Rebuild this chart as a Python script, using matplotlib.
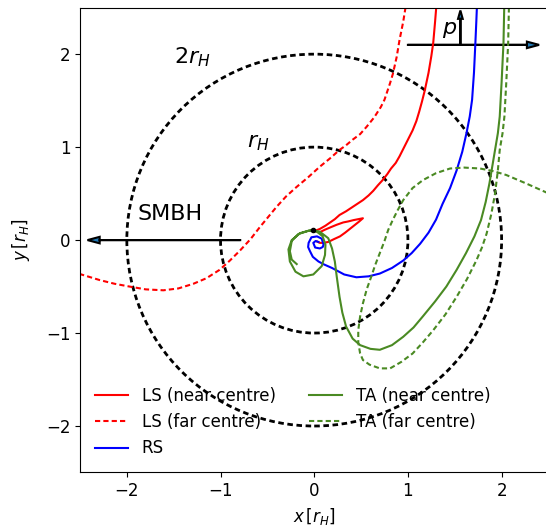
import matplotlib
matplotlib.use('Agg')
import matplotlib.pyplot as plt

# trajectories, in units of r_H
ls_near_x = [0.03, 0.06, 0.10, 0.15, 0.21, 0.275, 0.33, 0.38, 0.43, 0.48, 0.52, 0.47, 0.42,
             0.36, 0.31, 0.24, 0.18, 0.11, 0.05, 0.01,
             0.06, 0.12, 0.22, 0.27, 0.34, 0.40, 0.46, 0.52, 0.58, 0.63, 0.68, 0.73, 0.78,
             0.82, 0.87, 0.91, 0.96, 1.00, 1.05, 1.09, 1.12, 1.15, 1.18, 1.22, 1.25, 1.27,
             1.29, 1.31]
ls_near_y = [-0.015, -0.03, -0.03, -0.02, 0.01, 0.04, 0.08, 0.12, 0.16, 0.20, 0.235, 0.225,
             0.215, 0.20, 0.19, 0.165, 0.14, 0.11, 0.08, 0.10,
             0.12, 0.155, 0.225, 0.27, 0.31, 0.35, 0.39, 0.43, 0.48, 0.53, 0.59, 0.645, 0.71,
             0.77, 0.83, 0.90, 1.00, 1.08, 1.18, 1.28, 1.38, 1.49, 1.61, 1.80, 1.98, 2.12,
             2.35, 2.6]

ls_far_x = [0.99, 0.95, 0.91, 0.88, 0.84, 0.81, 0.78, 0.75, 0.71, 0.64, 0.56, 0.49, 0.41,
            0.34, 0.27, 0.17, 0.06, -0.06, -0.19, -0.30, -0.40, -0.49, -0.58, -0.68, -0.79,
            -0.90, -1.01, -1.15, -1.29, -1.45, -1.61, -1.80, -1.97, -2.13, -2.29, -2.55]
ls_far_y = [2.6, 2.35, 2.15, 1.97, 1.79, 1.69, 1.60, 1.51, 1.43, 1.32, 1.22, 1.14, 1.08,
            1.02, 0.97, 0.88, 0.79, 0.68, 0.57, 0.47, 0.36, 0.25, 0.14, 0.01, -0.11,
            -0.22, -0.32, -0.41, -0.47, -0.52, -0.54, -0.53, -0.50, -0.47, -0.43, -0.35]

rs_x = [1.74, 1.73, 1.72, 1.705, 1.685, 1.66, 1.625, 1.58, 1.52, 1.45, 1.37, 1.30, 1.22, 1.13,
        1.04, 0.95, 0.83, 0.70, 0.58, 0.45, 0.32, 0.19, 0.10, 0.045, -0.015, -0.045, -0.065,
        -0.06, -0.03, 0.03, 0.08, 0.10, 0.09, 0.06, 0.01, -0.01, 0.015, 0.045]
rs_y = [2.6, 2.35, 2.12, 1.80, 1.51, 1.33, 1.15, 0.95, 0.75, 0.56, 0.39, 0.22, 0.08, -0.04,
        -0.14, -0.22, -0.30, -0.36, -0.39, -0.40, -0.37, -0.30, -0.26, -0.23, -0.18, -0.12,
        -0.075, -0.03, 0.03, 0.04, 0.015, -0.05, -0.075, -0.09, -0.08, -0.03, -0.01, -0.02]

ta_near_x = [-0.187, -0.24, -0.26, -0.24, -0.17, -0.06, 0.03, 0.09, 0.12, 0.115, 0.08, -0.01,
             -0.115, -0.20, -0.26, -0.275, -0.24, -0.15, -0.03, 0.06, 0.15, 0.19, 0.22, 0.24,
             0.255, 0.27, 0.30, 0.34, 0.41, 0.49, 0.60, 0.70, 0.83, 0.95, 1.06, 1.16, 1.29,
             1.41, 1.52, 1.62, 1.71, 1.78, 1.83, 1.87, 1.90, 1.93, 1.96, 1.98, 2.00, 2.02, 2.03]
ta_near_y = [-0.258, -0.21, -0.12, -0.01, 0.065, 0.10, 0.09, 0.04, -0.05, -0.16, -0.28, -0.37,
             -0.39, -0.34, -0.23, -0.10, 0.0, 0.075, 0.11, 0.09, 0.02, -0.09, -0.23, -0.39,
             -0.50, -0.61, -0.78, -0.93, -1.06, -1.13, -1.17, -1.18, -1.13, -1.04, -0.94,
             -0.82, -0.66, -0.50, -0.32, -0.14, 0.04, 0.215, 0.41, 0.61, 0.79, 0.97, 1.15,
             1.33, 1.70, 2.12, 2.6]

ta_far_x = [2.08, 2.07, 2.05, 2.03, 2.01, 1.98, 1.96, 1.93, 1.89, 1.84, 1.79, 1.73, 1.63,
            1.52, 1.40, 1.27, 1.16, 1.05, 0.93, 0.81, 0.70, 0.59, 0.52, 0.49, 0.47, 0.47,
            0.49, 0.52, 0.56, 0.61, 0.65, 0.70, 0.75, 0.79, 0.84, 0.89, 0.95, 1.05, 1.16,
            1.30, 1.45, 1.60, 1.77, 1.92, 2.05, 2.26, 2.55]
ta_far_y = [2.6, 2.12, 1.70, 1.33, 1.15, 0.97, 0.75, 0.50, 0.28, 0.07, -0.08, -0.22, -0.42,
            -0.61, -0.80, -0.97, -1.10, -1.22, -1.31, -1.38, -1.38, -1.34, -1.29, -1.22,
            -1.10, -0.97, -0.82, -0.68, -0.53, -0.39, -0.27, -0.14, -0.01, 0.11, 0.22, 0.32,
            0.43, 0.56, 0.645, 0.72, 0.77, 0.78, 0.77, 0.74, 0.70, 0.61, 0.48]

radii = [1, 2]
centre = (-0.01, 0.11)

green = '#4a8a23'

fig = plt.figure(figsize=(5.46, 5.30), dpi=100)
ax = fig.add_axes([0.1465, 0.1085, 0.858, 0.877])

for r in radii:
    ax.add_patch(plt.Circle((0, 0), r, fill=False, color='k', lw=2, ls=(0, (2, 1.3))))

ax.plot(ls_near_x, ls_near_y, color='red', lw=1.5, label='LS (near centre)')
ax.plot(ls_far_x, ls_far_y, color='red', lw=1.5, ls=(0, (2.5, 1.5)), label='LS (far centre)')
ax.plot(rs_x, rs_y, color='blue', lw=1.5, label='RS')
ax.plot(ta_near_x, ta_near_y, color=green, lw=1.5, label='TA (near centre)')
ax.plot(ta_far_x, ta_far_y, color=green, lw=1.5, ls=(0, (2.5, 1.5)), label='TA (far centre)')
ax.plot(*centre, 'o', color='k', ms=3)

ax.arrow(-0.79, 0, -1.63, 0, head_width=0.07, head_length=0.13, length_includes_head=True,
         fc='C0', ec='k', lw=1.5)
ax.arrow(1.0, 2.1, 1.4, 0, head_width=0.07, head_length=0.13, length_includes_head=True,
         fc='C0', ec='k', lw=1.5)
ax.arrow(1.56, 2.1, 0, 0.37, head_width=0.05, head_length=0.09, length_includes_head=True,
         fc='C0', ec='k', lw=1.5)

ax.text(-1.89, 0.22, 'SMBH', fontsize=16)
ax.text(-1.5, 1.9, r'$2r_H$', fontsize=16)
ax.text(-0.72, 1.0, r'$r_H$', fontsize=16)
ax.text(1.36, 2.22, r'$p$', fontsize=16)

ax.set_xlim(-2.5, 2.5)
ax.set_ylim(-2.5, 2.5)
ax.set_xticks([-2, -1, 0, 1, 2])
ax.set_yticks([-2, -1, 0, 1, 2])
ax.tick_params(labelsize=12)
ax.set_xlabel(r'$x\,[r_H]$', fontsize=12)
ax.set_ylabel(r'$y\,[r_H]$', fontsize=12, labelpad=10)
ax.legend(loc='lower left', ncol=2, frameon=False, fontsize=12)

fig.savefig('out.png', dpi=100)
